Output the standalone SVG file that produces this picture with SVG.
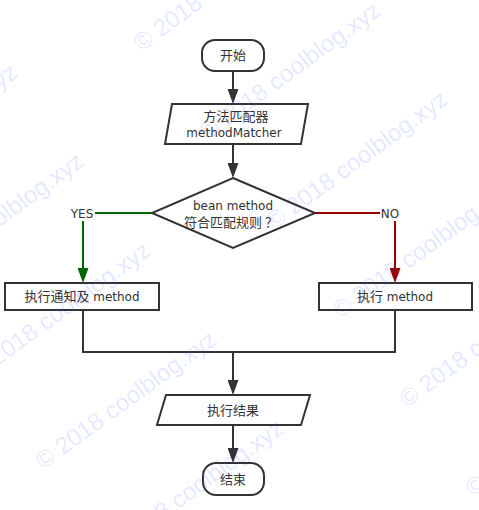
<svg xmlns="http://www.w3.org/2000/svg" width="479" height="510" viewBox="0 0 479 510">
<style>
  .node { fill: #ffffff; stroke: #333333; stroke-width: 2; }
  .lbl { font-family: "DejaVu Sans", "Noto Sans CJK SC", sans-serif; font-size: 12px; fill: #333333; text-anchor: middle; }
  .cjk { font-family: "Noto Sans CJK SC", sans-serif; font-size: 13px; }
  .conn { fill: none; stroke-width: 2; }
  .dark { stroke: #333333; }
  .green { stroke: #006600; }
  .red { stroke: #990000; }
  .wm { font-family: "Liberation Sans", sans-serif; font-size: 24px; fill: #3355ff; fill-opacity: 0.14; }
</style>
<defs>
  <marker id="ahDark" viewBox="0 0 15 11" refX="11" refY="5.5" markerWidth="15" markerHeight="11" markerUnits="userSpaceOnUse" orient="auto">
    <path d="M0,0 L15,5.5 L0,11 z" fill="#333333"/>
  </marker>
  <marker id="ahGreen" viewBox="0 0 15 11" refX="11" refY="5.5" markerWidth="15" markerHeight="11" markerUnits="userSpaceOnUse" orient="auto">
    <path d="M0,0 L15,5.5 L0,11 z" fill="#006600"/>
  </marker>
  <marker id="ahRed" viewBox="0 0 15 11" refX="11" refY="5.5" markerWidth="15" markerHeight="11" markerUnits="userSpaceOnUse" orient="auto">
    <path d="M0,0 L15,5.5 L0,11 z" fill="#990000"/>
  </marker>
</defs>
<rect width="479" height="510" fill="#ffffff"/>

<g id="connectors">
  <line class="conn dark" x1="233" y1="71" x2="233" y2="100" marker-end="url(#ahDark)"/>
  <line class="conn dark" x1="233" y1="144" x2="233" y2="174" marker-end="url(#ahDark)"/>
  <polyline class="conn green" points="152,213 95,213"/>
  <line class="conn green" x1="83" y1="221" x2="83" y2="279" marker-end="url(#ahGreen)"/>
  <polyline class="conn red" points="315,213 380,213"/>
  <line class="conn red" x1="395" y1="221" x2="395" y2="279" marker-end="url(#ahRed)"/>
  <polyline class="conn dark" points="83,310 83,352 395,352 395,310"/>
  <line class="conn dark" x1="233" y1="352" x2="233" y2="391" marker-end="url(#ahDark)"/>
  <line class="conn dark" x1="233" y1="425" x2="233" y2="459" marker-end="url(#ahDark)"/>
  <text class="lbl" x="82" y="217.5">YES</text>
  <text class="lbl" x="390" y="217.5">NO</text>
</g>

<g id="start">
  <rect class="node" x="202" y="40" width="62" height="31" rx="13" ry="13"/>
  <text class="lbl" x="233" y="60"><tspan class="cjk">开始</tspan></text>
</g>
<g id="matcher">
  <polygon class="node" points="172,104 308,104 301,144 165,144"/>
  <text class="lbl" x="236" y="121"><tspan class="cjk">方法匹配器</tspan></text>
  <text class="lbl" x="234" y="137">methodMatcher</text>
</g>
<g id="decision">
  <polygon class="node" points="233,178 315,213 233,248 152,213"/>
  <text class="lbl" x="233" y="210">bean method</text>
  <text class="lbl" x="231" y="227"><tspan class="cjk">符合匹配规则<tspan dx="3">？</tspan></tspan></text>
</g>
<g id="advice">
  <rect class="node" x="5" y="283" width="154" height="27"/>
  <text class="lbl" x="82" y="301"><tspan class="cjk">执行通知及</tspan> method</text>
</g>
<g id="method">
  <rect class="node" x="319" y="283" width="153" height="27"/>
  <text class="lbl" x="395" y="301"><tspan class="cjk">执行</tspan> method</text>
</g>
<g id="result">
  <polygon class="node" points="166,395 310,395 301,425 157,425"/>
  <text class="lbl" x="233" y="415"><tspan class="cjk">执行结果</tspan></text>
</g>
<g id="end">
  <rect class="node" x="203" y="463" width="61" height="32" rx="13" ry="13"/>
  <text class="lbl" x="233" y="484"><tspan class="cjk">结束</tspan></text>
</g>

<g id="watermark">
  <text class="wm" x="43" y="470" transform="rotate(-36 43 470)">© 2018 coolblog.xyz</text>
  <text class="wm" x="-23" y="381" transform="rotate(-36 -23 381)">© 2018 coolblog.xyz</text>
  <text class="wm" x="-90" y="292" transform="rotate(-36 -90 292)">© 2018 coolblog.xyz</text>
  <text class="wm" x="-156" y="203" transform="rotate(-36 -156 203)">© 2018 coolblog.xyz</text>
  <text class="wm" x="110" y="559" transform="rotate(-36 110 559)">© 2018 coolblog.xyz</text>
  <text class="wm" x="141" y="52" transform="rotate(-36 141 52)">© 2018 coolblog.xyz</text>
  <text class="wm" x="207" y="141" transform="rotate(-36 207 141)">© 2018 coolblog.xyz</text>
  <text class="wm" x="274" y="230" transform="rotate(-36 274 230)">© 2018 coolblog.xyz</text>
  <text class="wm" x="340" y="319" transform="rotate(-36 340 319)">© 2018 coolblog.xyz</text>
  <text class="wm" x="407" y="408" transform="rotate(-36 407 408)">© 2018 coolblog.xyz</text>
  <text class="wm" x="473" y="497" transform="rotate(-36 473 497)">© 2018 coolblog.xyz</text>
</g>
</svg>
